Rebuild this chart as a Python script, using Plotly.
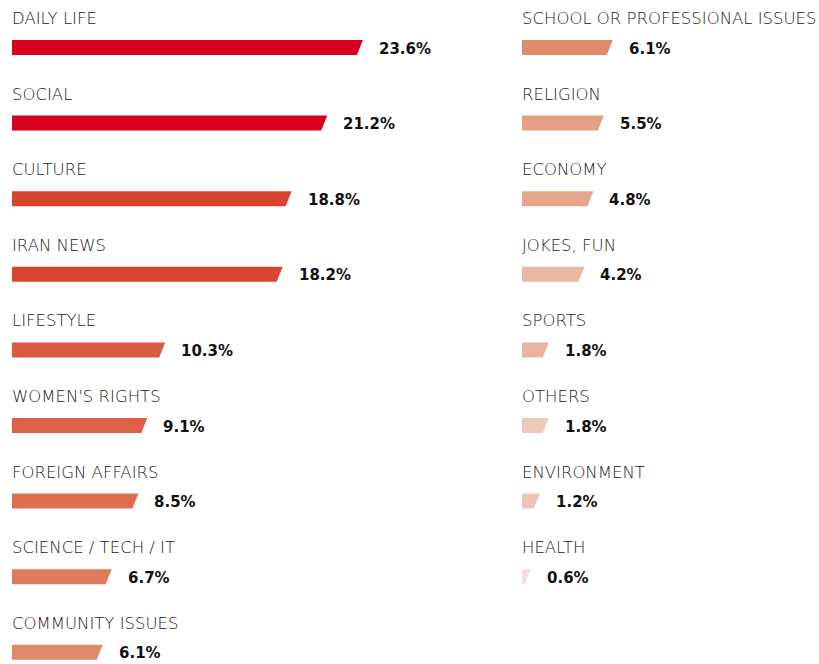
import plotly.graph_objects as go

left_categories = ["DAILY LIFE", "SOCIAL", "CULTURE", "IRAN NEWS", "LIFESTYLE",
                   "WOMEN'S RIGHTS", "FOREIGN AFFAIRS", "SCIENCE / TECH / IT", "COMMUNITY ISSUES"]
left_values = [23.6, 21.2, 18.8, 18.2, 10.3, 9.1, 8.5, 6.7, 6.1]
left_colors = ["#D7001F", "#D7001F", "#D94430", "#DA4532", "#DC5A40",
               "#DE6045", "#DF6E50", "#E07A5C", "#E08A6C"]

right_categories = ["SCHOOL OR PROFESSIONAL ISSUES", "RELIGION", "ECONOMY", "JOKES, FUN",
                    "SPORTS", "OTHERS", "ENVIRONMENT", "HEALTH"]
right_values = [6.1, 5.5, 4.8, 4.2, 1.8, 1.8, 1.2, 0.6]
right_colors = ["#E08A6C", "#E49F85", "#E6A68C", "#E8B9A2", "#E7B49D",
                "#ECC9BA", "#EAC6B7", "#EFE2DA"]

W, H = 819, 664
PX_PER_PCT = 14.87
ROW_PX = 75.6
FIRST_BAR_PX = 47.5
BAR_H_PX = 15
SLANT_PX = 6

left_x0, right_x0 = 12, 522
left_range = 30.0
right_range = 19.0

ymin = -FIRST_BAR_PX / ROW_PX
ymax = (H - FIRST_BAR_PX) / ROW_PX
h = BAR_H_PX / 2 / ROW_PX
slant = SLANT_PX / PX_PER_PCT

LABEL_FONT = dict(family="DejaVu Sans, sans-serif", size=16.5, color="#222222", weight=300)
VALUE_FONT = dict(family="DejaVu Sans, sans-serif", size=15, color="#111111", weight="bold")

fig = go.Figure()
annotations = []


def add_column(cats, vals, cols, xref):
    for i, (c, v, col) in enumerate(zip(cats, vals, cols)):
        fig.add_trace(go.Scatter(
            x=[0, v, v - slant, 0, 0],
            y=[i - h, i - h, i + h, i + h, i - h],
            fill="toself", fillcolor=col, mode="lines",
            line=dict(width=0, color=col), hoverinfo="skip", showlegend=False,
            xaxis=xref, yaxis="y",
        ))
        annotations.append(dict(
            x=0, y=i, xref=xref, yref="y", text=c, showarrow=False,
            xanchor="left", yanchor="middle", yshift=29, xshift=-2,
            font=LABEL_FONT,
        ))
        annotations.append(dict(
            x=v, y=i, xref=xref, yref="y", text=f"{v:.1f}%", showarrow=False,
            xanchor="left", yanchor="middle", xshift=14, yshift=-1,
            font=VALUE_FONT,
        ))


add_column(left_categories, left_values, left_colors, "x")
add_column(right_categories, right_values, right_colors, "x2")

fig.update_layout(
    width=W, height=H,
    margin=dict(l=0, r=0, t=0, b=0),
    paper_bgcolor="white", plot_bgcolor="white",
    xaxis=dict(domain=[left_x0 / W, (left_x0 + left_range * PX_PER_PCT) / W],
               range=[0, left_range], visible=False, fixedrange=True),
    xaxis2=dict(domain=[right_x0 / W, min(1.0, (right_x0 + right_range * PX_PER_PCT) / W)],
                range=[0, right_range], visible=False, fixedrange=True),
    yaxis=dict(range=[ymax, ymin], visible=False, fixedrange=True),
    annotations=annotations,
)

fig.write_html(
    "out.html",
    config={"displayModeBar": False},
    post_script="document.body.style.margin='0';document.body.style.overflow='hidden';",
)
